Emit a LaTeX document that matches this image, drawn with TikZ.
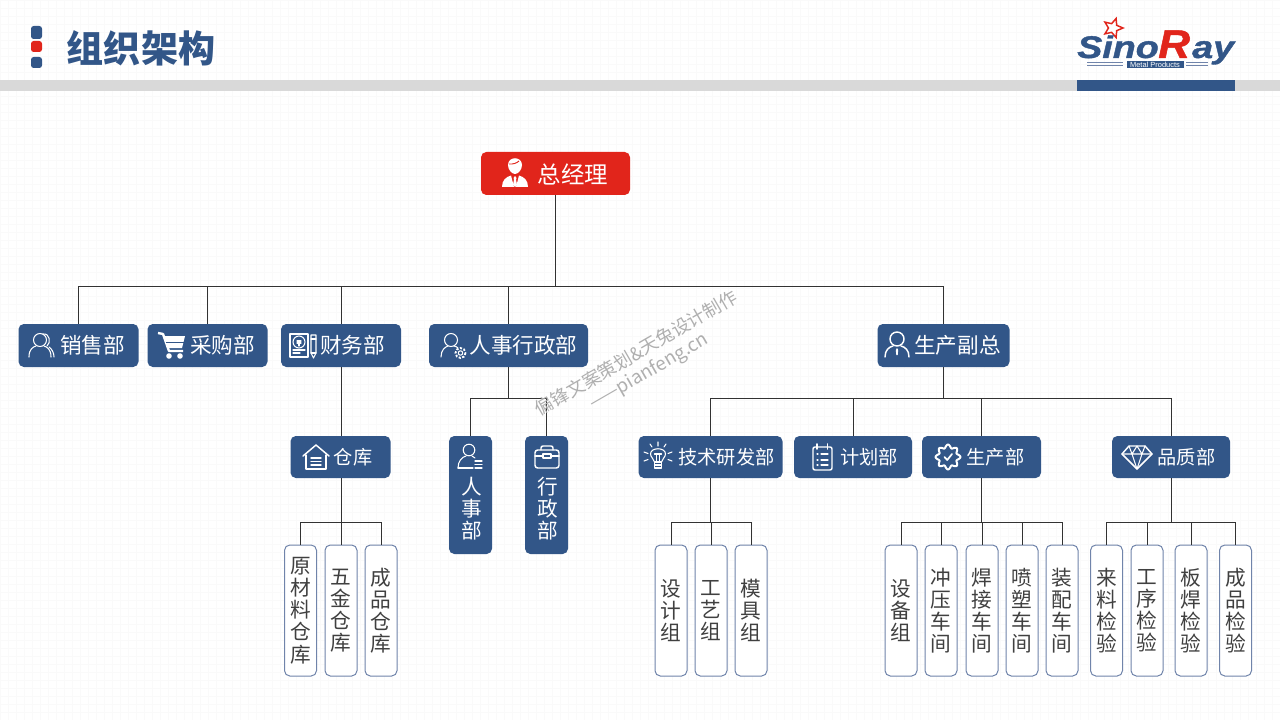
\documentclass[tikz,border=0pt]{standalone}
\usepackage{fontspec}
\usetikzlibrary{shapes.geometric}
\newfontfamily\cjk{Noto Sans CJK SC}
\newfontfamily\lib{Liberation Sans}
\newfontfamily\logof[BoldItalicFeatures={FakeBold=1.2}]{Liberation Sans}
\definecolor{brandblue}{RGB}{50,86,136}
\definecolor{brandred}{RGB}{225,37,27}
\definecolor{barGray}{RGB}{217,217,217}
\definecolor{gridGray}{RGB}{250,250,250}
\definecolor{leafEdge}{RGB}{112,132,170}
\definecolor{lineDark}{RGB}{50,50,50}
\definecolor{leafText}{RGB}{64,64,64}
\definecolor{markGray}{RGB}{175,175,175}
\tikzset{
  bw/.style={minimum width=#1*0.75pt},
  bh/.style={minimum height=#1*0.75pt},
  dept/.style={fill=brandblue,rounded corners=4pt,inner sep=0pt},
  ceobox/.style={fill=brandred,rounded corners=4pt,inner sep=0pt},
  depttext/.style={text=white,inner sep=0pt,font=\cjk\fontsize{16.2}{16.2}\selectfont},
  smalltext/.style={text=white,inner sep=0pt,font=\cjk\fontsize{14.4}{14.4}\selectfont},
  vtext/.style={text=white,inner sep=0pt,align=center,font=\cjk\fontsize{15.5}{16.5}\selectfont},
  leaf/.style={draw=leafEdge,line width=.75pt,fill=white,rounded corners=4pt,inner sep=0pt,
    minimum width=24pt,minimum height=98.25pt,align=center,text=leafText,
    font=\cjk\fontsize{15.5}{16.6}\selectfont},
  link/.style={draw=lineDark,line width=.75pt},
  ico/.style={draw=white,line width=.8pt,line cap=round,line join=round},
  pics/people/.style={code={
    \draw[ico] (-1,-5) circle [radius=6.5];
    \draw[ico] (-12,12) .. controls (-12,4) and (-8,2) .. (-5,1);
    \draw[ico] (10,12) .. controls (10,4) and (6,2) .. (3,1);
    \draw[ico] (2,-11) .. controls (9,-12) and (10,-2) .. (6,1);
    \draw[ico] (8,2) .. controls (11,4) and (13,8) .. (13,12);
  }},
  pics/cart/.style={code={
    \draw[white,line width=1.8pt,line join=round] (-14,-12) -- (-9,-11) -- (-3,6) -- (11,6);
    \fill[white] (-8,-9) -- (13,-9) -- (10,3) -- (-4.5,3) -- cycle;
    \draw[brandblue,line width=.7pt] (-6,-3) -- (12,-3);
    \fill[white] (-3,11) circle [radius=2.8] (8,11) circle [radius=2.8];
  }},
  pics/finance/.style={code={
    \draw[ico] (-12,-11) rectangle (6,12);
    \draw[ico] (-3,-3) circle [radius=6];
    \draw[ico] (-5,-4) -- (-1,-4) (-5,-2) -- (-1,-2) (-3,-2) -- (-3,1);
    \draw[ico] (-9,5) -- (3,5) (-9,8) -- (-2,8);
    \draw[ico] (9,-10) -- (14,-10) -- (14,8) -- (11.5,13) -- (9,8) -- cycle;
    \draw[ico] (9,-6) -- (14,-6) (9,8) -- (14,8);
  }},
  pics/persongear/.style={code={
    \draw[ico] (-2,-5) circle [radius=6.5];
    \draw[ico] (-12,12) .. controls (-12,5) and (-8,2) .. (-5,1);
    \draw[ico] (1,1) .. controls (3,1.5) and (4,2) .. (5,3);
    \draw[ico] (7.5,8) circle [radius=2.2];
    \draw[white,line width=1.4pt,dash pattern=on 1.6pt off 1.2pt] (7.5,8) circle [radius=5];
  }},
  pics/house/.style={code={
    \draw[ico,line width=1.1pt] (-13,-1) -- (0,-12) -- (13,-1);
    \draw[ico,line width=1.1pt] (-10,-2) -- (-10,12) -- (10,12) -- (10,-2);
    \draw[ico,line width=1.1pt] (-5,1) -- (5,1) (-5,4.5) -- (5,4.5) (-5,8) -- (5,8);
  }},
  pics/personlist/.style={code={
    \draw[ico] (-1,-7) circle [radius=5.8];
    \draw[ico] (-12,11) .. controls (-12,4) and (-8,0) .. (-4,-1);
    \draw[ico] (-12,11) -- (3,11);
    \draw[ico] (2,-1) -- (5,1);
    \draw[ico] (5,4) -- (12,4) (5,7.5) -- (12,7.5) (5,11) -- (12,11);
  }},
  pics/briefcase/.style={code={
    \draw[ico,line width=1.1pt,rounded corners=2pt] (-12,-7) rectangle (12,11);
    \draw[ico,line width=1.1pt,rounded corners=1.5pt] (-6,-7) -- (-6,-11) -- (6,-11) -- (6,-7);
    \draw[ico,line width=1.1pt] (-12,-1) -- (-4,-1) (4,-1) -- (12,-1);
    \draw[ico] (-4,-3) rectangle (4,1);
  }},
  pics/bulb/.style={code={
    \draw[ico] (-3.5,5) .. controls (-4,2) and (-7.5,0) .. (-7.5,-3) .. controls (-7.5,-10) and (7.5,-10) .. (7.5,-3) .. controls (7.5,0) and (4,2) .. (3.5,5);
    \draw[ico] (-3.5,5) -- (-3.5,11) -- (3.5,11) -- (3.5,5) -- cycle (-3.5,8) -- (3.5,8);
    \draw[ico] (-1.6,5) -- (-1.6,-2) (1.6,5) -- (1.6,-2) (-3.5,-3) -- (3.5,-3);
    \draw[ico] (0,-15) -- (0,-11) (-8,-13) -- (-6,-10) (8,-13) -- (6,-10)
      (-14,-5) -- (-10,-3.5) (14,-5) -- (10,-3.5) (-14,4) -- (-10,2.5) (14,4) -- (10,2.5);
  }},
  pics/clipboard/.style={code={
    \draw[ico,line width=1.1pt,rounded corners=1.5pt] (-9,-10) rectangle (10,13);
    \draw[ico,line width=1.3pt] (-5,-13) -- (-5,-8) (5.5,-13) -- (5.5,-8);
    \draw[ico] (-5,-3) -- (-4,-3) (-5,3) -- (-4,3) (-5,8) -- (-4,8);
    \draw[ico] (-1,-3) -- (6,-3) (-1,3) -- (6,3) (-1,8) -- (6,8);
  }},
  pics/gearcheck/.style={code={
    \draw[ico,line width=1.5pt,domain=0:360,samples=145,smooth]
      plot ({(10.8+1.6*cos(8*\x))*cos(\x)},{(10.8+1.6*cos(8*\x))*sin(\x)}) -- cycle;
    \draw[ico,line width=1.3pt] (-3.5,0) -- (-.8,3) -- (4,-3);
  }},
  pics/gem/.style={code={
    \draw[ico,line width=1.1pt] (-8,-11) -- (8,-11) -- (15,-3) -- (0,12) -- (-15,-3) -- cycle;
    \draw[ico] (-15,-3) -- (15,-3) (-8,-11) -- (-5,-3) -- (0,12) -- (5,-3) -- (8,-11) (-5,-3) -- (0,-11) -- (5,-3);
  }},
  pics/vp/.style={code={
    \draw[ico,line width=1.1pt] (0,-6) circle [radius=7];
    \draw[ico,line width=1.1pt] (-12,12) .. controls (-12,5) and (-8,2) .. (-4,1);
    \draw[ico,line width=1.1pt] (12,12) .. controls (12,5) and (8,2) .. (4,1);
    \fill[white] (0,3) -- (1.2,5) -- (.7,10) -- (-.7,10) -- (-1.2,5) -- cycle;
  }},
  pics/boss/.style={code={
    \fill[white] (-7,-8) .. controls (-7,-17) and (7,-17) .. (7,-8) .. controls (7,-3) and (3,1) .. (0,1) .. controls (-3,1) and (-7,-3) .. (-7,-8) -- cycle;
    \draw[brandred,line width=.7pt] (-6,-9) .. controls (-2,-8.5) and (2,-10) .. (4,-12);
    \fill[white] (-13,14) .. controls (-13,7) and (-9,4) .. (-4,2.5) -- (-1,14) -- cycle;
    \fill[white] (13,14) .. controls (13,7) and (9,4) .. (4,2.5) -- (1,14) -- cycle;
    \fill[white] (0,3) -- (1.5,5) -- (1,6.5) -- (2,12) -- (0,14) -- (-2,12) -- (-1,6.5) -- (-1.5,5) -- cycle;
  }}
}
\begin{document}
\begin{tikzpicture}[x=0.75pt,y=-0.75pt]
\useasboundingbox (0,0) rectangle (1280,720);
\fill[white] (0,0) rectangle (1280,720);
\foreach \i in {0,8,...,1280}{\draw[gridGray,line width=.5pt] (\i,0) -- (\i,720);}
\foreach \i in {0,8,...,720}{\draw[gridGray,line width=.5pt] (0,\i) -- (1280,\i);}
% header
\fill[barGray] (0,80) rectangle (1280,91);
\fill[brandblue] (1077,80) rectangle (1235,91);
\fill[brandblue,rounded corners=2pt] (31,26) rectangle (42,39);
\fill[brandred,rounded corners=2pt] (31,41) rectangle (42,52);
\fill[brandblue,rounded corners=2pt] (31,57) rectangle (42,68);
\node[inner sep=0pt,text=brandblue,font=\cjk\fontsize{27.8}{27.8}\selectfont\bfseries] (title) at (141,48) {组织架构};
% logo
\node[star,star points=5,star point ratio=2.2,draw=brandred,line width=1.1pt,fill=white,minimum size=15pt,inner sep=0pt,rotate=-18] (logostar) at (1113,28) {};
\node[anchor=base west,inner sep=0pt,text=brandblue,font=\logof\bfseries\itshape\fontsize{23.5}{23.5}\selectfont] (logosino) at (1077,58) {\scalebox{1.2}[1]{Sino}};
\node[anchor=base west,inner sep=0pt,text=brandred,font=\logof\bfseries\itshape\fontsize{30}{30}\selectfont] (logor) at (1158,58) {\scalebox{1.1}[1]{R}};
\node[anchor=base west,inner sep=0pt,text=brandblue,font=\logof\bfseries\itshape\fontsize{23.5}{23.5}\selectfont] (logoay) at (1192,58) {\scalebox{1.2}[1]{ay}};
\node[fill=brandblue,text=white,inner sep=0pt,minimum width=42.75pt,minimum height=5.5pt,font=\lib\fontsize{5.6}{5.6}\selectfont] (logometal) at (1155,64.5) {Metal Products};
\draw[leafEdge,line width=.4pt] (1087,62) -- (1123,62) (1087,65.5) -- (1123,65.5) (1186,62) -- (1208,62) (1186,65.5) -- (1208,65.5);
% named boxes
\node[ceobox,bw=149,bh=43] (ceo) at (555.5,173.5) {};
\node[dept,bw=120,bh=43] (sales) at (78.5,345.5) {};
\node[dept,bw=120,bh=43] (purch) at (207.5,345.5) {};
\node[dept,bw=120,bh=43] (fin) at (341,345.5) {};
\node[dept,bw=159,bh=43] (hradm) at (508.5,345.5) {};
\node[dept,bw=132,bh=43] (vp) at (943.5,345.5) {};
\node[dept,bw=100,bh=42] (store) at (340.5,457) {};
\node[dept,bw=43,bh=118] (hr) at (470.5,495) {};
\node[dept,bw=43,bh=118] (adm) at (546.5,495) {};
\node[dept,bw=144,bh=42] (tech) at (710.5,457) {};
\node[dept,bw=118,bh=42] (plan) at (853,457) {};
\node[dept,bw=119,bh=42] (prod) at (981.5,457) {};
\node[dept,bw=118,bh=42] (qual) at (1171,457) {};
\node[leaf] (l1) at (300.5,610.5) {原\\材\\料\\仓\\库};
\node[leaf] (l2) at (341,610.5) {五\\金\\仓\\库};
\node[leaf] (l3) at (381,610.5) {成\\品\\仓\\库};
\node[leaf] (t1) at (671,610.5) {设\\计\\组};
\node[leaf] (t2) at (711,610.5) {工\\艺\\组};
\node[leaf] (t3) at (751,610.5) {模\\具\\组};
\node[leaf] (p1) at (901,610.5) {设\\备\\组};
\node[leaf] (p2) at (941,610.5) {冲\\压\\车\\间};
\node[leaf] (p3) at (982,610.5) {焊\\接\\车\\间};
\node[leaf] (p4) at (1022,610.5) {喷\\塑\\车\\间};
\node[leaf] (p5) at (1062,610.5) {装\\配\\车\\间};
\node[leaf] (q1) at (1106.5,610.5) {来\\料\\检\\验};
\node[leaf] (q2) at (1147,610.5) {工\\序\\检\\验};
\node[leaf] (q3) at (1191,610.5) {板\\焊\\检\\验};
\node[leaf] (q4) at (1235.5,610.5) {成\\品\\检\\验};
% connectors
\coordinate (busA) at (555.5,286.5);
\coordinate (busH) at (508.5,398.5);
\coordinate (busV) at (943.5,398.5);
\coordinate (busS) at (341,522.5);
\coordinate (busT) at (710.5,522.5);
\coordinate (busP) at (981.5,522.5);
\coordinate (busQ) at (1171,522.5);
\draw[link] (ceo.south) -- (busA);
\foreach \n in {sales,purch,fin,hradm,vp}{\draw[link] (busA) -| (\n.north);}
\draw[link] (fin.south) -- (fin.south |- store.north);
\draw[link] (hradm.south) -- (busH);
\foreach \n in {hr,adm}{\draw[link] (busH) -| (\n.north);}
\draw[link] (vp.south) -- (busV);
\foreach \n in {tech,plan,prod,qual}{\draw[link] (busV) -| (\n.north);}
\draw[link] (busS |- store.south) -- (busS);
\foreach \n in {l1,l2,l3}{\draw[link] (busS) -| (\n.north);}
\draw[link] (tech.south) -- (busT);
\foreach \n in {t1,t2,t3}{\draw[link] (busT) -| (\n.north);}
\draw[link] (prod.south) -- (busP);
\foreach \n in {p1,p2,p3,p4,p5}{\draw[link] (busP) -| (\n.north);}
\draw[link] (qual.south) -- (busQ);
\foreach \n in {q1,q2,q3,q4}{\draw[link] (busQ) -| (\n.north);}
% box texts
\node[depttext,font=\cjk\fontsize{17.6}{17.6}\selectfont] (ceoT) at (573,174.5) {总经理};
\node[depttext] (salesT) at (92.5,345.5) {销售部};
\node[depttext] (purchT) at (222.5,345.5) {采购部};
\node[depttext] (finT) at (352.5,345.5) {财务部};
\node[depttext] (hradmT) at (523.5,345.5) {人事行政部};
\node[depttext] (vpT) at (957.5,345.5) {生产副总};
\node[smalltext] (storeT) at (353,457) {仓库};
\node[vtext] (hrT) at (471.5,509) {人\\事\\部};
\node[vtext] (admT) at (547.5,509) {行\\政\\部};
\node[smalltext] (techT) at (726.5,457) {技术研发部};
\node[smalltext] (planT) at (869,457) {计划部};
\node[smalltext] (prodT) at (995.5,457) {生产部};
\node[smalltext] (qualT) at (1186.5,457) {品质部};
% icons
\pic at (515,173) {boss};
\pic at (41,345) {people};
\pic at (172,345) {cart};
\pic at (302,345) {finance};
\pic at (453,345) {persongear};
\pic at (897,345) {vp};
\pic at (316,457) {house};
\pic at (470,457) {personlist};
\pic at (547,457) {briefcase};
\pic at (658,457) {bulb};
\pic at (822,457) {clipboard};
\pic at (948,457) {gearcheck};
\pic at (1137,457) {gem};
% watermark
\node[rotate=30,inner sep=0pt,text=markGray,font=\cjk\fontsize{13.6}{13.6}\selectfont] (wm1) at (636,353) {偏锋文案策划\&天兔设计制作};
\node[rotate=30,inner sep=0pt,text=markGray,font=\cjk\fontsize{14}{14}\selectfont] (wm2) at (649,372) {——pianfeng.cn};
\end{tikzpicture}
\end{document}
